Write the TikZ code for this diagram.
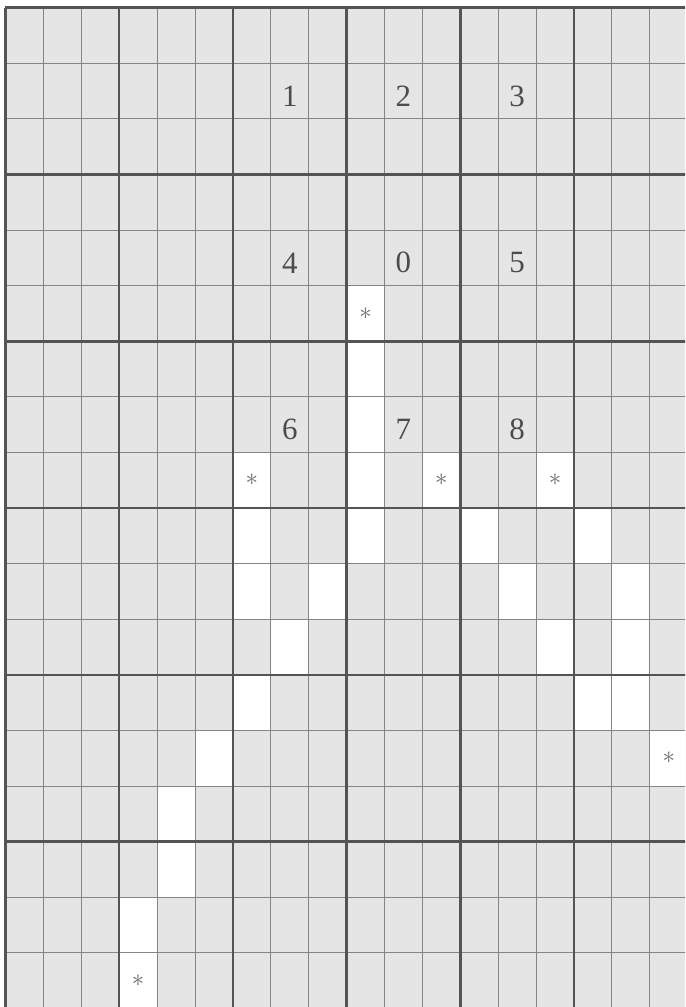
\documentclass[tikz,border=0pt]{standalone}
\usepackage{fontspec}
\setmainfont{Liberation Serif}
\usetikzlibrary{calc}
\definecolor{paper}{gray}{0.90}
\definecolor{inkThin}{gray}{0.52}
\definecolor{inkThick}{gray}{0.33}
\definecolor{inkDigit}{gray}{0.30}
\definecolor{inkStar}{gray}{0.42}
\tikzset{
  gdfig/.style={x=37.9pt, y=-55.6pt},
  thinRule/.style={draw=inkThin, line width=0.9pt},
  thickRule/.style={draw=inkThick, line width=2.6pt},
  hole/.style={fill=white},
  digit/.style={text=inkDigit, inner sep=0pt, yshift=-5pt,
    font=\fontsize{31}{31}\selectfont},
  starMark/.style={text=inkStar, inner sep=0pt,
    font=\fontsize{30}{30}\selectfont},
}
\def\GridN{18}
\def\MarL{0.1451}
\def\MarT{0.1367}
\def\EdgeR{17.929}
\def\EdgeB{17.975}

\begin{document}
\begin{tikzpicture}[gdfig]
  % ----- page frame (grid runs off right and bottom) -----
  \useasboundingbox (-\MarL, -\MarT) rectangle (\EdgeR, \EdgeB);
  \clip (-\MarL, -\MarT) rectangle (\EdgeR, \EdgeB);
  \fill[white] (-\MarL, -\MarT) rectangle (\EdgeR, \EdgeB);
  \fill[paper] (0, 0) rectangle (\GridN, \GridN);

  % ----- open cells -----
  \foreach \c/\r in {9/5, 9/6, 9/7, 9/8, 9/9,
                     6/8, 11/8, 14/8,
                     6/9, 12/9, 15/9,
                     6/10, 8/10, 13/10, 16/10,
                     7/11, 14/11, 16/11,
                     6/12, 15/12, 16/12, 17/13,
                     5/13, 4/14, 4/15, 3/16, 3/17}
    \fill[hole] (\c, \r) rectangle ++(1, 1);

  % ----- thin rules, then every third one thick -----
  \foreach \i in {0,...,\GridN} {
    \draw[thinRule] (\i, 0) -- (\i, \GridN);
    \draw[thinRule] (0, \i) -- (\GridN, \i);
  }
  \foreach \i in {0, 3, ..., \GridN} {
    \draw[thickRule] (\i, 0) -- (\i, \GridN);
    \draw[thickRule] (0, \i) -- (\GridN, \i);
  }

  % ----- numbered cells -----
  \node[digit] (d1) at (7.5, 1.5)  {1};
  \node[digit] (d2) at (10.5, 1.5) {2};
  \node[digit] (d3) at (13.5, 1.5) {3};
  \node[digit] (d4) at (7.5, 4.5)  {4};
  \node[digit] (d0) at (10.5, 4.5) {0};
  \node[digit] (d5) at (13.5, 4.5) {5};
  \node[digit] (d6) at (7.5, 7.5)  {6};
  \node[digit] (d7) at (10.5, 7.5) {7};
  \node[digit] (d8) at (13.5, 7.5) {8};

  % ----- starred cells -----
  \node[starMark] (sA) at (9.5, 5.5)  {$\ast$};
  \node[starMark] (sB) at (6.5, 8.5)  {$\ast$};
  \node[starMark] (sC) at (11.5, 8.5) {$\ast$};
  \node[starMark] (sD) at (14.5, 8.5) {$\ast$};
  \node[starMark] (sE) at (17.5, 13.5) {$\ast$};
  \node[starMark] (sF) at (3.5, 17.5) {$\ast$};
\end{tikzpicture}
\end{document}
